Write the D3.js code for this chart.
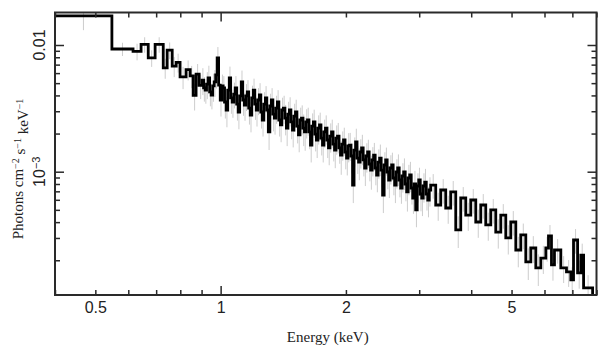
<!DOCTYPE html>
<html><head><meta charset="utf-8">
<script src="https://cdn.jsdelivr.net/npm/d3@7"></script>
<style>body{margin:0;background:#fff;} svg{display:block}</style>
</head><body>
<svg id="c" width="608" height="357"></svg>
<script>
// ---- data (energy bin lower edges in keV, flux in photons cm^-2 s^-1 keV^-1) ----
const binLo = [
0.400,0.548,0.616,0.644,0.670,0.696,0.728,0.744,0.765,0.782,0.799,0.826,0.845,0.859,0.873,0.888,
0.903,0.910,0.918,0.925,0.933,0.941,0.949,0.957,0.965,0.973,0.981,0.989,0.998,1.006,1.014,1.022,1.031,1.040,1.049,1.057,
1.066,1.075,1.084,1.093,1.102,1.111,1.121,1.130,1.140,1.149,1.159,1.168,1.178,1.188,1.198,1.208,1.218,1.228,1.239,1.249,
1.259,1.270,1.281,1.291,1.302,1.313,1.324,1.335,1.346,1.357,1.369,1.380,1.392,1.403,1.415,1.427,1.439,1.451,1.463,1.475,
1.488,1.500,1.513,1.525,1.538,1.551,1.564,1.577,1.590,1.603,1.617,1.630,1.644,1.657,1.671,1.685,1.699,1.713,1.728,1.742,
1.757,1.771,1.786,1.801,1.816,1.831,1.847,1.862,1.878,1.893,1.909,1.925,1.941,1.957,1.974,1.990,2.007,2.023,2.040,2.057,
2.075,2.092,2.110,2.127,2.145,2.163,2.181,2.200,2.218,2.236,2.255,2.274,2.293,2.312,2.331,2.351,2.370,2.390,2.410,2.430,
2.450,2.471,2.492,2.512,2.533,2.554,2.576,2.597,2.619,2.641,2.663,2.685,2.708,2.730,2.753,2.776,2.799,2.822,2.846,2.870,
2.894,2.918,2.942,2.967,2.992,3.017,3.042,3.067,3.093,3.119,3.145,3.171,
3.197,3.287,3.379,3.474,3.571,3.672,3.775,3.881,3.990,4.102,4.217,4.335,4.457,4.582,4.711,4.843,4.979,5.119,5.262,5.410,5.562,5.718,5.879,
6.044,6.134,6.236,6.340,6.567,6.776,6.941,7.045,7.205,7.336,7.448];
const binHiLast = 7.83;
const flux = [
0.0170,0.0093,0.0089,0.0101,0.0079,0.0101,0.0066,0.0091,0.0068,0.0073,0.0056,0.0064,0.0057,0.0040,0.0059,0.0048,
0.00529,0.00458,0.00441,0.00492,0.00549,0.00426,0.00403,0.00475,0.00511,0.00580,
0.00790,0.00483,0.00368,0.00475,0.00458,0.00355,0.00307,0.00441,0.00549,0.00382,
0.00355,0.00410,0.00458,0.00342,0.00296,0.00396,0.00511,0.00368,0.00336,0.00396,
0.00426,0.00318,0.00280,0.00382,0.00441,0.00342,0.00307,0.00368,0.00403,0.00296,
0.00256,0.00342,0.00382,0.00307,0.00206,0.00330,0.00368,0.00285,0.00265,0.00318,
0.00355,0.00256,0.00234,0.00307,0.00318,0.00265,0.00221,0.00285,0.00307,0.00247,
0.00213,0.00275,0.00296,0.00229,0.00195,0.00256,0.00265,0.00221,0.00206,0.00247,
0.00256,0.00206,0.00162,0.00229,0.00247,0.00198,0.00178,0.00221,0.00234,0.00184,
0.00162,0.00206,0.00221,0.00178,0.00154,0.00191,0.00206,0.00165,0.00148,0.00184,
0.00191,0.00154,0.00135,0.00165,0.00178,0.00143,0.00128,0.00160,0.00162,0.00133,
0.000785,0.00148,0.00172,0.00128,0.00119,0.00143,0.00154,0.00124,0.00107,0.00133,
0.00143,0.00115,0.00103,0.00124,0.00135,0.00107,0.000942,0.00119,0.00128,0.00103,
0.000655,0.00113,0.00124,0.000995,0.000860,0.00107,0.00113,0.000892,0.000785,0.000995,
0.00107,0.000860,0.000744,0.000925,0.000995,0.000800,0.000692,0.000892,0.000942,0.000744,
0.000620,0.000800,0.000499,0.000771,0.000860,0.000667,0.000620,0.000771,0.000829,0.000667,
0.000598,0.000717,
0.000785,0.000546,0.000717,0.000517,0.000692,0.000347,0.000620,0.000455,0.000598,0.000401,0.000546,0.000380,
0.000499,0.000334,0.000455,0.000300,0.000401,0.000241,0.000317,0.000194,0.000250,0.000174,0.000208,
0.000250,0.000311,0.000184,0.000241,0.000174,0.000162,0.000140,0.000289,0.000159,0.000220,0.000121];
const errFrac = [
0.23,0.12,0.15,0.14,0.15,0.14,0.18,0.15,0.18,0.17,0.20,0.18,0.20,0.24,0.20,0.22,
0.24,0.22,0.22,0.24,0.25,0.23,0.23,0.25,0.24,0.22,
0.22,0.24,0.26,0.23,0.24,0.26,0.27,0.24,0.23,0.25,
0.25,0.23,0.24,0.26,0.27,0.24,0.23,0.25,0.25,0.24,
0.24,0.26,0.27,0.25,0.23,0.25,0.26,0.24,0.24,0.26,
0.26,0.24,0.24,0.26,0.28,0.25,0.24,0.27,0.26,0.25,
0.24,0.26,0.27,0.25,0.25,0.27,0.28,0.25,0.26,0.27,
0.27,0.25,0.25,0.27,0.27,0.25,0.26,0.28,0.29,0.26,
0.25,0.27,0.27,0.26,0.25,0.27,0.28,0.26,0.25,0.27,
0.27,0.25,0.26,0.28,0.27,0.26,0.25,0.27,0.28,0.26,
0.27,0.25,0.30,0.26,0.25,0.27,0.27,0.26,0.25,0.27,
0.28,0.26,0.27,0.25,0.28,0.26,0.27,0.26,0.28,0.26,
0.25,0.27,0.30,0.26,0.25,0.27,0.27,0.26,0.28,0.27,
0.28,0.26,0.25,0.27,0.28,0.26,0.25,0.27,0.28,0.26,
0.28,0.27,0.25,0.26,0.28,0.27,0.30,0.27,0.27,0.26,
0.25,0.27,0.27,0.26,0.25,0.27,0.28,0.26,0.27,0.26,
0.27,0.26,
0.22,0.25,0.22,0.25,0.22,0.28,0.22,0.25,0.22,0.25,0.22,0.25,0.22,0.26,0.22,0.26,0.22,0.27,0.23,0.28,0.24,0.28,0.25,
0.22,0.22,0.25,0.22,0.24,0.24,0.26,0.22,0.25,0.23,0.26];
const xLabelTicks = [0.5, 1, 2, 5];
const xMinorTicks = [0.4,0.5,0.6,0.7,0.8,0.9,2,3,4,5,6,7,8];
const xMajorTicks = [1];
const yMajorTicks = [0.001, 0.01];
const yMinorTicks = [2e-4,3e-4,4e-4,5e-4,6e-4,7e-4,8e-4,9e-4,2e-3,3e-3,4e-3,5e-3,6e-3,7e-3,8e-3,9e-3];
const yLabels = [{v:0.01, base:"0.01", sup:""},{v:0.001, base:"10", sup:"\u22123"}];

// ---- layout ----
const L = 55, R = 596.5, T = 12.5, B = 295;
const svg = d3.select("#c");
const x = d3.scaleLog().domain([0.4, 8]).range([L, R]);
const y = d3.scaleLog().domain([1.064e-4, 0.01805]).range([B, T]);

const bins = flux.map((f, i) => ({
  lo: binLo[i], hi: i < binLo.length - 1 ? binLo[i + 1] : binHiLast, f, e: f * errFrac[i]
}));

const plot = svg.append("g");
plot.append("clipPath").attr("id","clip").append("rect")
  .attr("x", L).attr("y", T).attr("width", R - L).attr("height", B - T);
const inner = plot.append("g").attr("clip-path","url(#clip)");

// error bars
inner.append("g").selectAll("line").data(bins).join("line")
  .attr("x1", d => x(Math.sqrt(d.lo * d.hi)))
  .attr("x2", d => x(Math.sqrt(d.lo * d.hi)))
  .attr("y1", d => y(Math.max(d.f - d.e, 1e-5)))
  .attr("y2", d => y(d.f + d.e))
  .attr("stroke", "#cdcdcd").attr("stroke-width", 1);

// step line
const pts = [];
bins.forEach(d => { pts.push([d.lo, d.f]); pts.push([d.hi, d.f]); });
pts.push([binHiLast, y.domain()[0]]);
inner.append("path")
  .attr("d", d3.line().x(p => x(p[0])).y(p => y(p[1]))(pts))
  .attr("fill", "none").attr("stroke", "#000").attr("stroke-width", 2.8)
  .attr("stroke-linejoin", "miter");

// ticks via axes (inward)
const axColor = "#2a2a2a";
function styleAx(g){ g.select(".domain").remove(); g.selectAll("line").attr("stroke", axColor).attr("stroke-width", 1.5); g.selectAll("text").remove(); }
svg.append("g").attr("transform",`translate(0,${B})`).call(d3.axisBottom(x).tickValues(xMinorTicks).tickSize(-5)).call(styleAx);
svg.append("g").attr("transform",`translate(0,${B})`).call(d3.axisBottom(x).tickValues(xMajorTicks).tickSize(-9)).call(styleAx);
svg.append("g").attr("transform",`translate(0,${T})`).call(d3.axisTop(x).tickValues(xMinorTicks).tickSize(-5)).call(styleAx);
svg.append("g").attr("transform",`translate(0,${T})`).call(d3.axisTop(x).tickValues(xMajorTicks).tickSize(-9)).call(styleAx);
svg.append("g").attr("transform",`translate(${L},0)`).call(d3.axisLeft(y).tickValues(yMinorTicks).tickSize(-5)).call(styleAx);
svg.append("g").attr("transform",`translate(${L},0)`).call(d3.axisLeft(y).tickValues(yMajorTicks).tickSize(-9)).call(styleAx);
svg.append("g").attr("transform",`translate(${R},0)`).call(d3.axisRight(y).tickValues(yMinorTicks).tickSize(-5)).call(styleAx);
svg.append("g").attr("transform",`translate(${R},0)`).call(d3.axisRight(y).tickValues(yMajorTicks).tickSize(-9)).call(styleAx);

// frame
svg.append("rect").attr("x", L).attr("y", T).attr("width", R - L).attr("height", B - T)
  .attr("fill","none").attr("stroke", axColor).attr("stroke-width", 2);

// x tick labels
const xl = svg.append("g").attr("transform",`translate(0,${B})`)
  .call(d3.axisBottom(x).tickValues(xLabelTicks).tickSize(0).tickPadding(7).tickFormat(d3.format("")));
xl.select(".domain").remove();
xl.selectAll("text").attr("font-family","'Liberation Sans', Arial, sans-serif").attr("font-size", 16).attr("fill","#222");

// y tick labels (rotated)
const yl = svg.append("g").selectAll("text").data(yLabels).join("text")
  .attr("transform", d => `translate(45,${y(d.v)}) rotate(-90)`)
  .attr("text-anchor","middle")
  .attr("font-family","'Liberation Sans', Arial, sans-serif").attr("font-size", 16).attr("fill","#222");
yl.append("tspan").text(d => d.base);
yl.filter(d => d.sup).append("tspan").attr("dy","-0.45em").attr("font-size", 11).text(d => d.sup);

// axis titles
const serif = "'Liberation Serif', 'Times New Roman', serif";
svg.append("text").attr("x", (L + R) / 2 + 2).attr("y", 342).attr("text-anchor","middle")
  .attr("font-family", serif).attr("font-size", 15).attr("fill","#222").text("Energy (keV)");
const yt = svg.append("text").attr("transform", `translate(23,169) rotate(-90)`)
  .attr("text-anchor","middle").attr("font-family", serif).attr("font-size", 15).attr("fill","#222");
yt.append("tspan").text("Photons cm");
yt.append("tspan").attr("dy","-0.45em").attr("font-size",10).text("\u22122");
yt.append("tspan").attr("dy","0.45em").text(" s");
yt.append("tspan").attr("dy","-0.45em").attr("font-size",10).text("\u22121");
yt.append("tspan").attr("dy","0.45em").text(" keV");
yt.append("tspan").attr("dy","-0.45em").attr("font-size",10).text("\u22121");
</script>
</body></html>
